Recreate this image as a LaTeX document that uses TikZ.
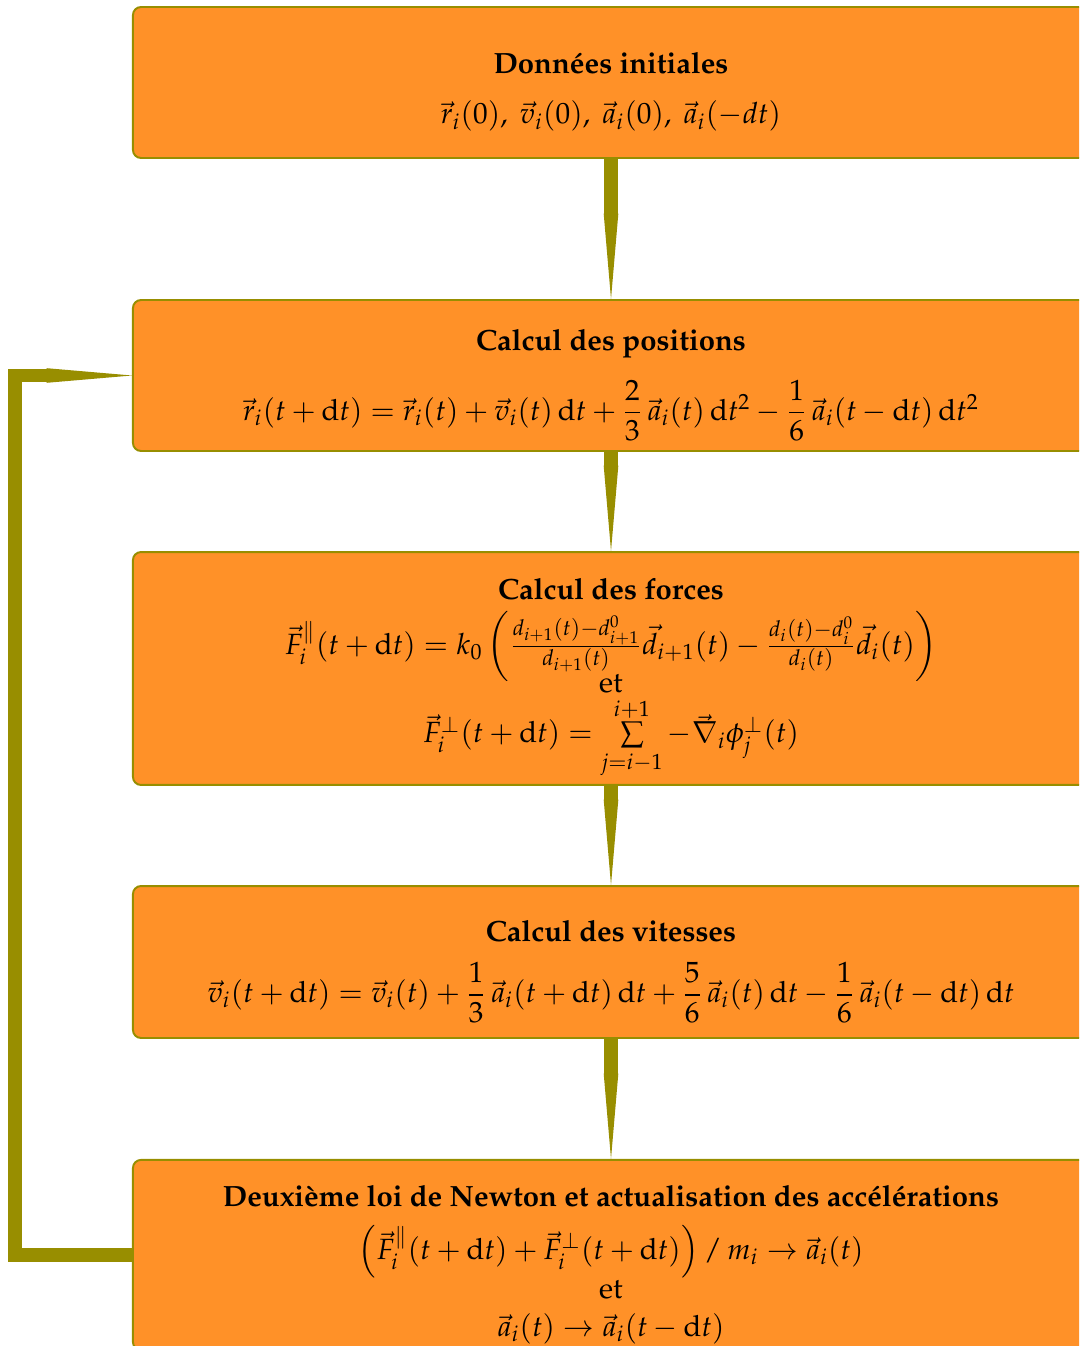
\documentclass[tikz,border=0pt,12pt]{standalone}
\usepackage[T1]{fontenc}
\usepackage{mathpazo}
\usepackage{amsmath}
\usetikzlibrary{arrows.meta}
\definecolor{boxorange}{RGB}{255,145,40}
\definecolor{arrowolive}{RGB}{152,142,0}
\newcommand{\dd}{\mathrm{d}}
\newcommand{\haut}{\rule{0pt}{16.5pt}}

\begin{document}
\begin{tikzpicture}[x=0.41pt, y=0.41pt,
    etape/.style={draw=arrowolive, line width=0.8pt, fill=boxorange, rounded corners=3.3pt,
        minimum width=392pt, align=center, inner xsep=6pt, inner ysep=2.5pt},
    fleche/.style={arrowolive, line width=5.7pt,
        -{Triangle[length=35pt,width=6pt,line width=0pt]}}]
    % Frame
    \clip (0,0) rectangle (1079,-1346);

    % Steps
    \node[etape, minimum height=61.9pt] (init) at (611,-82.5)
        {\haut\textbf{Données initiales}\\[6pt]
         $\vec{r}_i(0),\ \vec{v}_i(0),\ \vec{a}_i(0),\ \vec{a}_i(-dt)$};
    \node[etape, minimum height=61.9pt] (pos) at (611,-375.5)
        {\haut\textbf{Calcul des positions}\\[8pt]
         $\vec{r}_i(t+\dd t) = \vec{r}_i(t) + \vec{v}_i(t)\,\dd t + \dfrac{2}{3}\,\vec{a}_i(t)\,\dd t^2
          - \dfrac{1}{6}\,\vec{a}_i(t-\dd t)\,\dd t^2$};
    \node[etape, minimum height=95.5pt] (force) at (611,-668.5)
        {\haut\textbf{Calcul des forces}\\[4pt]
         $\vec{F}_i^{\parallel}(t+\dd t) = k_0\left(\frac{d_{i+1}(t)-d^0_{i+1}}{d_{i+1}(t)}\vec{d}_{i+1}(t)
          - \frac{d_i(t)-d^0_i}{d_i(t)}\vec{d}_i(t)\right)$\\[-4pt]
         et\\[1pt]
         $\vec{F}_i^{\perp}(t+\dd t) = \sum\limits_{j=i-1}^{i+1} -\vec{\nabla}_i\phi_j^{\perp}(t)$};
    \node[etape, minimum height=62.3pt] (vit) at (611,-962)
        {\haut\textbf{Calcul des vitesses}\\[7.3pt]
         $\vec{v}_i(t+\dd t) = \vec{v}_i(t) + \dfrac{1}{3}\,\vec{a}_i(t+\dd t)\,\dd t
          + \dfrac{5}{6}\,\vec{a}_i(t)\,\dd t - \dfrac{1}{6}\,\vec{a}_i(t-\dd t)\,\dd t$};
    \node[etape, minimum height=77.9pt] (newton) at (611,-1255)
        {\haut\textbf{Deuxième loi de Newton et actualisation des accélérations}\\[7.3pt]
         $\left(\vec{F}_i^{\parallel}(t+\dd t)+\vec{F}_i^{\perp}(t+\dd t)\right)/\,m_i \to \vec{a}_i(t)$\\
         et\\[1pt]
         $\vec{a}_i(t) \to \vec{a}_i(t-\dd t)$};

    % Arrows
    \draw[fleche] (init) -- (pos);
    \draw[fleche] (pos) -- (force);
    \draw[fleche] (force) -- (vit);
    \draw[fleche] (vit) -- (newton);

    % Loop back
    \coordinate (retour) at (15,-375.5);
    \draw[fleche] (newton.west) -| (retour) -- (pos.west);
\end{tikzpicture}
\end{document}
